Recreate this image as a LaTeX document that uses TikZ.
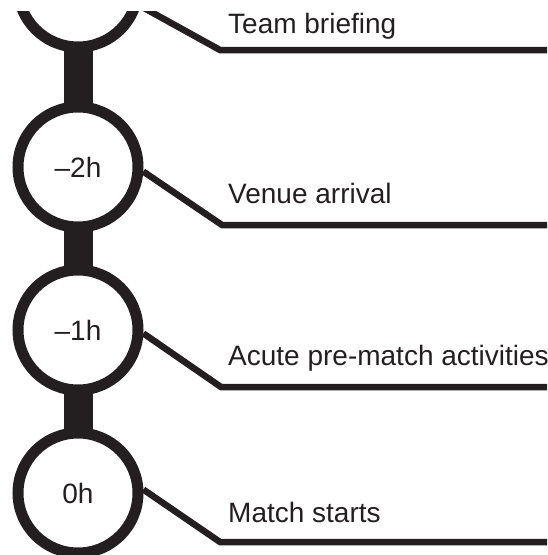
\documentclass[tikz,border=0pt]{standalone}
\usepackage{fontspec}
\setmainfont{Liberation Sans}
\definecolor{ink}{RGB}{35,31,32}
\begin{document}
\begin{tikzpicture}[x=1pt,y=-1pt,
  hour/.style={circle, draw=ink, line width=11pt, fill=white, minimum size=120pt, inner sep=0pt,
    font=\fontsize{28}{32}\selectfont, text=ink},
  bar/.style={draw=ink, line width=29pt, shorten <=-5pt, shorten >=-5pt},
  leader/.style={draw=ink, line width=6.5pt, line join=miter},
  lbl/.style={anchor=base west, inner sep=0pt, font=\fontsize{28}{32}\selectfont, text=ink}]
\useasboundingbox (0,0) rectangle (547,555);
\begin{scope}
\clip (0,11) rectangle (547,555);
\node[hour] (c0) at (78,-13) {};
\node[hour] (c1) at (78,167) {–2h};
\node[hour] (c2) at (78,330) {–1h};
\node[hour] (c3) at (78,493) {0h};
\draw[bar] (c0.south) -- (c1.north);
\draw[bar] (c1.south) -- (c2.north);
\draw[bar] (c2.south) -- (c3.north);
\coordinate (k0) at (220,50);  \coordinate (e0) at (560,50);
\coordinate (k1) at (222,225); \coordinate (e1) at (560,225);
\coordinate (k2) at (221,387); \coordinate (e2) at (560,387);
\coordinate (k3) at (220,542); \coordinate (e3) at (560,542);
\draw[leader] (c0.-17) -- (k0) -- (e0);
\draw[leader] (c1.-4) -- (k1) -- (e1);
\draw[leader] (c2.-3) -- (k2) -- (e2);
\draw[leader] (c3.3) -- (k3) -- (e3);
\node[lbl] (t0) at (228,33) {Team briefing};
\node[lbl] (t1) at (228,203) {Venue arrival};
\node[lbl] (t2) at (228,365) {Acute pre-match activities};
\node[lbl] (t3) at (228,522) {Match starts};
\end{scope}
\end{tikzpicture}
\end{document}
